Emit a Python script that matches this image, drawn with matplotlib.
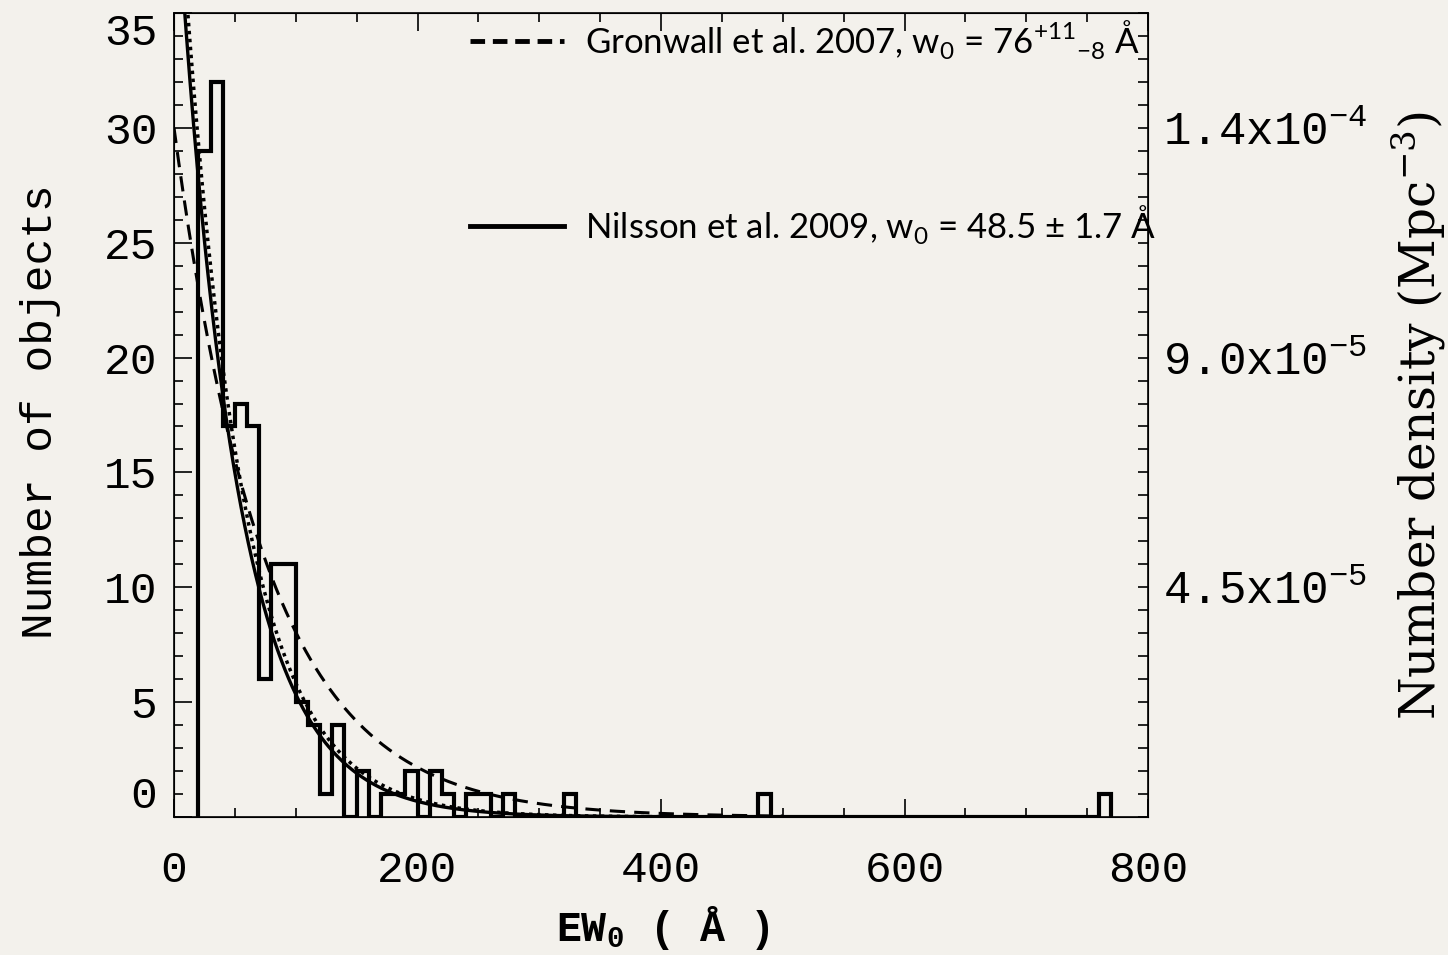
import matplotlib.pyplot as plt
import numpy as np
from matplotlib.lines import Line2D

# EW0 histogram, 10 A bins from 20 A to 770 A
bin_edges = np.arange(20, 780, 10)
counts = ([29, 32, 17, 18, 17, 6, 11, 11, 5, 4,
           1, 4, 0, 2, 0, 1, 1, 2, 0, 2,
           1, 0, 1, 1, 0, 1, 0, 0, 0, 0, 1]
          + [0] * 15 + [1] + [0] * 27 + [1])

# exponential fits N(EW) = amp * exp(-EW / w0)
gronwall_amp, gronwall_w0 = 30.0, 76.0
nilsson_amp, nilsson_w0 = 42.0, 48.5
dotted_amp, dotted_w0 = 44.0, 49.5
ew_max = 500

xticks = [0, 200, 400, 600, 800]
yticks = [0, 5, 10, 15, 20, 25, 30, 35]
density_ticks = [10, 20, 30]
density_labels = ['4.5x10$^{\\mathregular{-5}}$', '9.0x10$^{\\mathregular{-5}}$',
                  '1.4x10$^{\\mathregular{-4}}$']

legend_labels = ['Gronwall et al. 2007, w$_\\mathregular{0}$ = 76$^{\\mathregular{+11}}$$_{\\mathregular{-8}}$ Å',
                 'Nilsson et al. 2009, w$_\\mathregular{0}$ = 48.5 ± 1.7 Å']

bg = '#f3f1ec'
mono = 'Liberation Mono'

fig = plt.figure(figsize=(14.48, 9.55), dpi=100, facecolor=bg)
ax = fig.add_axes([174 / 1448, 138 / 955, 974 / 1448, 804 / 955])
ax.set_facecolor(bg)

ax.stairs(counts, bin_edges, color='k', lw=3, baseline=0)

ew = np.linspace(0, ew_max, 500)
ax.plot(ew, gronwall_amp * np.exp(-ew / gronwall_w0), color='k', lw=2.2, dashes=(5, 3))
ax.plot(ew, dotted_amp * np.exp(-ew / dotted_w0), color='k', lw=2.5, ls=(0, (1, 1.3)))
ax.plot(ew, nilsson_amp * np.exp(-ew / nilsson_w0), color='k', lw=2.4)

ax.set_xlim(0, 800)
ax.set_ylim(0, 35)
ax.set_xticks(xticks)
ax.set_xticks(np.arange(0, 801, 50), minor=True)
ax.set_yticks(yticks)
ax.set_yticks(np.arange(0, 36, 1), minor=True)
ax.tick_params(which='both', direction='in', top=True, right=False, width=1.2)
ax.tick_params(which='major', length=13)
ax.tick_params(which='minor', length=6.5)
ax.tick_params(axis='x', pad=24)
ax.tick_params(axis='y', pad=12)
for lab in ax.get_xticklabels() + ax.get_yticklabels():
    lab.set_fontfamily(mono)
    lab.set_fontsize(32)
# first and last y labels sit inside the axis range
ylabs = ax.get_yticklabels()
ylabs[0].set_va('bottom')
ylabs[-1].set_va('top')
for sp in ax.spines.values():
    sp.set_linewidth(1.2)

ax2 = ax.twinx()
ax2.set_ylim(0, 35)
ax2.set_yticks(density_ticks)
ax2.set_yticklabels(density_labels, fontfamily=mono, fontsize=33)
ax2.set_yticks(np.arange(0, 36, 1), minor=True)
ax2.tick_params(which='both', direction='in', length=7, width=1.2, pad=11)

ax.set_ylabel('Number of objects', fontfamily=mono, fontsize=32, va='center')
ax.yaxis.set_label_coords(-0.137, 0.504)
ax.set_xlabel('EW$_\\mathregular{0}$ ( Å )', fontfamily=mono, fontsize=30,
              fontweight='bold', va='center')
ax.xaxis.set_label_coords(0.502, -0.138)
ax2.set_ylabel('Number density (Mpc$^{\\mathregular{-3}}$)', fontfamily='DejaVu Serif',
               fontsize=35, va='center', rotation=90)
ax2.yaxis.set_label_coords(1.278, 0.5)

handles = [Line2D([], [], color='k', lw=3.5, dashes=(3, 1.6)),
           Line2D([], [], color='k', lw=3.5)]
fig.legend(handles, legend_labels, loc='upper left', bbox_to_anchor=(470 / 1448, 1 - 18 / 955),
           frameon=False, prop={'family': 'Lato', 'size': 25}, handlelength=2.7,
           handletextpad=0.62, labelspacing=4.1, borderpad=0, borderaxespad=0)

fig.savefig('out.png', dpi=100, facecolor=bg)
